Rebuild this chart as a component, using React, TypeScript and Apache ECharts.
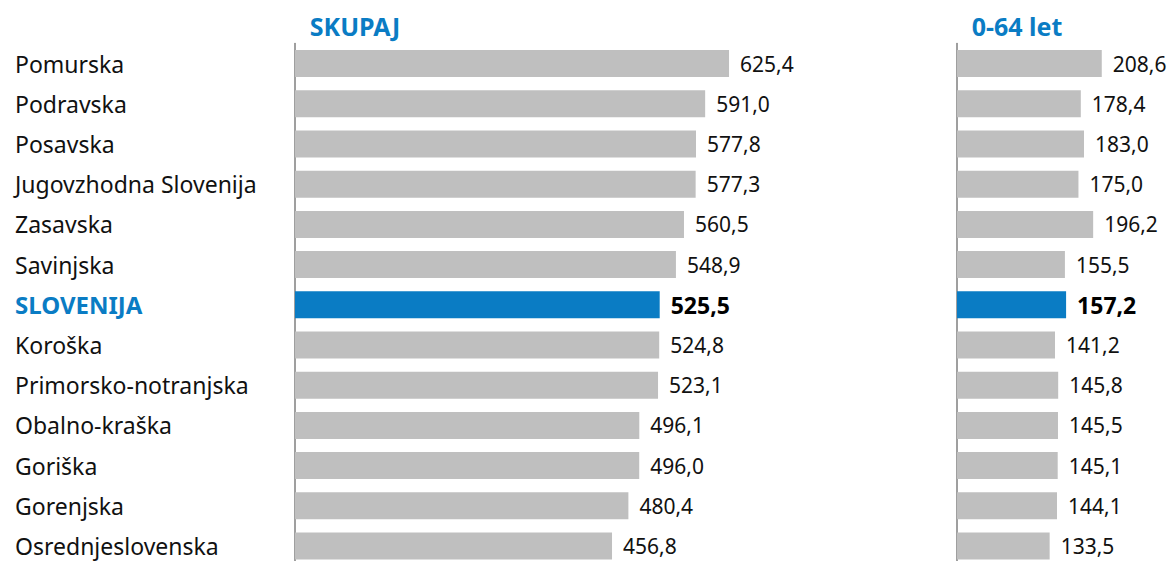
import React, { useEffect, useRef } from "react";
import * as echarts from "echarts";

const regions = [
  "Pomurska",
  "Podravska",
  "Posavska",
  "Jugovzhodna Slovenija",
  "Zasavska",
  "Savinjska",
  "SLOVENIJA",
  "Koroška",
  "Primorsko-notranjska",
  "Obalno-kraška",
  "Goriška",
  "Gorenjska",
  "Osrednjeslovenska",
];
const totalValues = [625.4, 591.0, 577.8, 577.3, 560.5, 548.9, 525.5, 524.8, 523.1, 496.1, 496.0, 480.4, 456.8];
const youngValues = [208.6, 178.4, 183.0, 175.0, 196.2, 155.5, 157.2, 141.2, 145.8, 145.5, 145.1, 144.1, 133.5];
const panelTitles = ["SKUPAJ", "0-64 let"];
const highlight = "SLOVENIJA";

const BLUE = "#0a7cc4";
const GRAY = "#bfbfbf";
const FONT = "Noto Sans";

const fmt = (v: number) => v.toFixed(1).replace(".", ",");

function buildData(values: number[]) {
  return values.map((v, i) => {
    const isHi = regions[i] === highlight;
    return {
      value: v,
      itemStyle: { color: isHi ? BLUE : GRAY },
      label: isHi
        ? { fontWeight: "bold", fontSize: 23, color: "#000" }
        : undefined,
    };
  });
}

export default function App() {
  const ref = useRef<HTMLDivElement>(null);
  useEffect(() => {
    if (!ref.current) return;
    const chart = echarts.init(ref.current, null, { renderer: "svg" });
    const scale = 0.694;
    const top = 43.5;
    const height = 40.2 * 13;
    const labelCommon = {
      show: true,
      position: "right",
      distance: 11,
      fontFamily: FONT,
      fontSize: 21,
      color: "#111",
      formatter: (p: any) => fmt(p.value),
    };
    const titleStyle = { color: BLUE, fontFamily: FONT, fontWeight: "bold", fontSize: 25 };
    chart.setOption({
      animation: false,
      backgroundColor: "#fff",
      title: [
        { text: panelTitles[0], left: 350, top: 8, textAlign: "center", textStyle: titleStyle },
        { text: panelTitles[1], left: 1012, top: 8, textAlign: "center", textStyle: titleStyle },
      ],
      grid: [
        { left: 295, top, width: 650 * scale, height },
        { left: 957, top, width: 250 * scale, height },
      ],
      xAxis: [
        { type: "value", gridIndex: 0, min: 0, max: 650, show: false },
        { type: "value", gridIndex: 1, min: 0, max: 250, show: false },
      ],
      yAxis: [
        {
          type: "category",
          gridIndex: 0,
          data: regions,
          inverse: true,
          axisLine: { show: true, lineStyle: { color: "#7f7f7f", width: 1.5 } },
          axisTick: { show: false },
          splitLine: { show: false },
          axisLabel: {
            align: "left",
            margin: 280,
            fontFamily: FONT,
            fontSize: 23,
            color: "#111",
            formatter: (v: string) => (v === highlight ? `{hi|${v}}` : v),
            rich: {
              hi: { fontFamily: FONT, fontSize: 24, fontWeight: "bold", color: BLUE },
            },
          },
        },
        {
          type: "category",
          gridIndex: 1,
          data: regions,
          inverse: true,
          axisLine: { show: true, lineStyle: { color: "#7f7f7f", width: 1.5 } },
          axisTick: { show: false },
          splitLine: { show: false },
          axisLabel: { show: false },
        },
      ],
      series: [
        {
          type: "bar",
          xAxisIndex: 0,
          yAxisIndex: 0,
          barWidth: 27,
          data: buildData(totalValues),
          label: labelCommon,
        },
        {
          type: "bar",
          xAxisIndex: 1,
          yAxisIndex: 1,
          barWidth: 27,
          data: buildData(youngValues),
          label: labelCommon,
        },
      ],
    });
    return () => chart.dispose();
  }, []);
  return (
    <div style={{ position: "absolute", left: 0, top: 0, width: 1170, height: 561, overflow: "hidden" }}>
      <div ref={ref} style={{ width: 1170, height: 620 }} />
    </div>
  );
}
